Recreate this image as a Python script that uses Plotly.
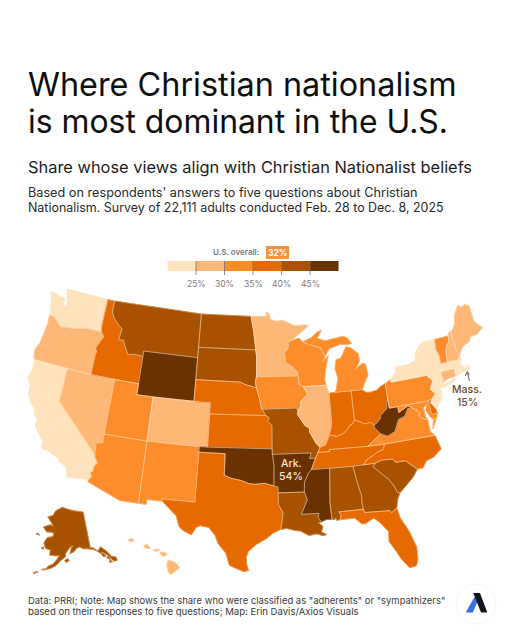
import math
import numpy as np
import plotly.graph_objects as go

# Survey values per state (share, %)
STATE_NAMES = ["WA", "OR", "CA", "NV", "ID", "MT", "WY", "UT", "CO", "AZ", "NM", "ND", "SD", "NE", "KS",
               "OK", "TX", "MN", "IA", "MO", "AR", "LA", "WI", "IL", "MI", "IN", "OH", "KY", "TN", "MS",
               "AL", "GA", "FL", "SC", "NC", "VA", "WV", "MD", "DE", "PA", "NJ", "NY", "CT", "RI", "MA",
               "VT", "NH", "ME", "AK", "HI"]
STATE_VALUES = [23, 28, 23, 28, 38, 43, 47, 33, 29, 33, 33, 42, 43, 37, 38,
                48, 38, 28, 33, 42, 54, 43, 33, 29, 33, 38, 38, 39, 39, 49,
                43, 42, 37, 43, 38, 34, 50, 32, 36, 33, 23, 22, 27, 24, 15,
                32, 28, 28, 42, 27]

BIN_EDGES = [25, 30, 35, 40, 45]
BIN_COLORS = ["#fee3bd", "#fdb878", "#fd8c2b", "#e66a00", "#a85200", "#6a3200"]
LEGEND_MIN = 20
LEGEND_MAX = 50
US_OVERALL = 32

# Simplified state outlines, (lon, lat) rings
OUTLINES = {
    "WA": [[(-124.73,48.38),(-123.1,48.15),(-122.75,48.15),(-122.6,47.3),(-122.3,47.4),(-122.3,47.9),(-122.5,48.4),(-122.75,49.0),(-117.03,49.0),(-117.04,46.42),(-116.92,45.995),(-118.98,46.0),(-119.3,45.93),(-120.5,45.7),(-121.2,45.65),(-122.3,45.55),(-122.8,45.9),(-123.2,46.15),(-123.55,46.26),(-124.05,46.27),(-124.05,46.7),(-124.15,46.95),(-124.4,47.6)]],
    "OR": [[(-124.05,46.27),(-123.55,46.26),(-123.2,46.15),(-122.8,45.9),(-122.3,45.55),(-121.2,45.65),(-120.5,45.7),(-119.3,45.93),(-118.98,46.0),(-116.92,45.995),(-116.46,45.6),(-116.85,45.0),(-117.2,44.4),(-116.95,44.2),(-117.03,43.8),(-117.03,42.0),(-124.21,42.0),(-124.4,42.3),(-124.55,42.84),(-124.15,43.7),(-124.05,44.7),(-123.95,45.5)]],
    "CA": [[(-124.21,42.0),(-120.0,42.0),(-120.0,39.0),(-114.63,35.0),(-114.57,34.8),(-114.15,34.3),(-114.43,34.05),(-114.5,33.5),(-114.72,33.4),(-114.52,33.03),(-114.72,32.72),(-117.12,32.53),(-117.25,32.85),(-117.4,33.3),(-118.0,33.65),(-118.4,33.75),(-118.5,34.03),(-119.2,34.15),(-119.6,34.4),(-120.47,34.45),(-120.65,34.6),(-120.65,35.15),(-121.3,35.7),(-121.9,36.3),(-121.95,36.6),(-121.8,36.85),(-122.1,36.96),(-122.5,37.5),(-122.5,37.8),(-123.0,38.0),(-123.7,38.9),(-123.8,39.7),(-124.35,40.3),(-124.1,41.0)]],
    "NV": [[(-120,42),(-114.04,42),(-114.04,36.2),(-114.75,36.1),(-114.63,35.0),(-120,39)]],
    "ID": [[(-117.03,49),(-116.05,49),(-116.05,48.0),(-115.7,47.5),(-115,47),(-114.35,46.65),(-114.5,45.6),(-113.9,45.65),(-113.45,45.05),(-113.0,44.45),(-112.3,44.55),(-111.5,44.55),(-111.05,44.48),(-111.05,42.0),(-117.03,42),(-117.03,43.8),(-116.95,44.2),(-117.2,44.4),(-116.85,45.0),(-116.46,45.6),(-116.92,45.995),(-117.04,46.42)]],
    "MT": [[(-116.05,49),(-104.05,49),(-104.05,45),(-111.05,45),(-111.05,44.48),(-111.5,44.55),(-112.3,44.55),(-113.0,44.45),(-113.45,45.05),(-113.9,45.65),(-114.5,45.6),(-114.35,46.65),(-115,47),(-115.7,47.5),(-116.05,48)]],
    "WY": [[(-111.05,45),(-104.05,45),(-104.05,41),(-111.05,41)]],
    "UT": [[(-114.04,42),(-111.05,42),(-111.05,41),(-109.05,41),(-109.05,37),(-114.04,37)]],
    "CO": [[(-109.05,41),(-102.05,41),(-102.05,37),(-109.05,37)]],
    "AZ": [[(-114.04,37),(-109.05,37),(-109.05,31.33),(-111.07,31.33),(-114.81,32.5),(-114.72,32.72),(-114.52,33.03),(-114.72,33.4),(-114.5,33.5),(-114.43,34.05),(-114.15,34.3),(-114.57,34.8),(-114.63,35.0),(-114.75,36.1),(-114.04,36.2)]],
    "NM": [[(-109.05,37),(-103.0,37),(-103.04,32),(-106.62,32),(-106.53,31.78),(-108.21,31.78),(-108.21,31.33),(-109.05,31.33)]],
    "ND": [[(-104.05,49),(-97.23,49),(-96.85,47.6),(-96.56,45.94),(-104.05,45.94)]],
    "SD": [[(-104.05,45.94),(-96.56,45.94),(-96.45,45.3),(-96.45,43.5),(-96.6,43.0),(-96.45,42.5),(-97.9,42.8),(-98.5,43.0),(-104.05,43.0)]],
    "NE": [[(-104.05,43),(-98.5,43),(-97.9,42.8),(-96.45,42.5),(-96.1,41.6),(-95.85,40.7),(-95.31,40.0),(-102.05,40),(-102.05,41),(-104.05,41)]],
    "KS": [[(-102.05,40),(-95.31,40),(-94.9,39.8),(-95.1,39.5),(-94.61,39.1),(-94.62,37),(-102.05,37)]],
    "OK": [[(-103,37),(-94.62,37),(-94.43,35.4),(-94.48,33.64),(-95.5,33.9),(-96.5,33.8),(-97.2,33.85),(-98.1,34.13),(-99.2,34.3),(-100.0,34.56),(-100,36.5),(-103,36.5)]],
    "TX": [[(-106.62,32),(-103.04,32),(-103,36.5),(-100,36.5),(-100,34.56),(-99.2,34.3),(-98.1,34.13),(-97.2,33.85),(-96.5,33.8),(-95.5,33.9),(-94.48,33.64),(-94.04,33.55),(-94.04,33.02),(-94.04,32),(-93.55,31.2),(-93.7,30.3),(-93.85,29.7),(-94.7,29.35),(-95.3,28.9),(-96.4,28.35),(-97.2,27.7),(-97.4,27.2),(-97.35,26.5),(-97.15,25.96),(-97.6,25.85),(-98.2,26.05),(-99.1,26.4),(-99.5,27.5),(-100.3,28.3),(-100.7,29.1),(-101.4,29.77),(-102.3,29.88),(-102.7,29.7),(-103.15,28.98),(-104.0,29.3),(-104.5,29.65),(-104.9,30.6),(-106.0,31.4),(-106.53,31.78)]],
    "MN": [[(-97.23,49),(-95.15,49),(-95.15,49.38),(-94.8,49.3),(-94.6,48.72),(-93.8,48.55),(-92.9,48.6),(-92.0,48.3),(-91.4,48.07),(-90.0,48.1),(-89.5,48.0),(-90.8,47.3),(-92.0,46.7),(-92.3,46.65),(-92.3,46.1),(-92.85,45.6),(-92.75,45.0),(-92.75,44.75),(-92.0,44.4),(-91.25,43.85),(-91.22,43.5),(-96.45,43.5),(-96.45,45.3),(-96.56,45.94),(-96.85,47.6)]],
    "IA": [[(-96.45,43.5),(-91.22,43.5),(-91.1,42.7),(-90.65,42.5),(-90.15,41.8),(-91.05,41.2),(-91.1,40.7),(-91.42,40.38),(-91.73,40.61),(-95.77,40.58),(-95.85,40.7),(-96.1,41.6),(-96.45,42.5),(-96.6,43.0)]],
    "MO": [[(-95.77,40.58),(-91.73,40.61),(-91.42,40.38),(-91.5,40.0),(-90.7,39.0),(-90.2,38.75),(-90.2,38.4),(-89.5,37.3),(-89.1,36.95),(-89.4,36.5),(-89.7,36.0),(-90.37,36.0),(-90.15,36.5),(-94.62,36.5),(-94.62,37),(-94.61,39.1),(-95.1,39.5),(-94.9,39.8),(-95.31,40)]],
    "AR": [[(-94.62,36.5),(-90.15,36.5),(-90.37,36),(-89.7,36),(-90.25,35.0),(-90.6,34.7),(-91.1,33.9),(-91.17,33.0),(-94.04,33.02),(-94.04,33.55),(-94.48,33.64),(-94.43,35.4)]],
    "LA": [[(-94.04,33.02),(-91.17,33.0),(-90.9,32.3),(-91.6,31.0),(-89.73,31.0),(-89.85,30.65),(-89.55,30.2),(-89.85,30.15),(-89.4,29.8),(-89.6,29.3),(-89.1,29.05),(-89.4,28.95),(-90.1,29.15),(-90.9,29.05),(-91.8,29.5),(-92.3,29.55),(-93.2,29.77),(-93.85,29.7),(-93.7,30.3),(-93.55,31.2),(-94.04,32)]],
    "WI": [[(-92.0,46.7),(-91.2,46.85),(-90.8,46.9),(-90.4,46.55),(-89.1,46.15),(-88.1,45.9),(-87.8,45.35),(-87.6,45.1),(-87.95,44.6),(-87.2,45.15),(-87.5,44.4),(-87.75,43.7),(-87.9,43.0),(-87.8,42.49),(-90.65,42.5),(-91.1,42.7),(-91.22,43.5),(-91.25,43.85),(-92,44.4),(-92.75,44.75),(-92.75,45),(-92.85,45.6),(-92.3,46.1),(-92.3,46.65)]],
    "IL": [[(-90.65,42.5),(-87.8,42.49),(-87.53,41.72),(-87.53,39.35),(-87.6,38.7),(-87.95,38.0),(-88.05,37.8),(-88.45,37.1),(-89.1,36.95),(-89.5,37.3),(-90.2,38.4),(-90.2,38.75),(-90.7,39),(-91.5,40),(-91.42,40.38),(-91.1,40.7),(-91.05,41.2),(-90.15,41.8)]],
    "IN": [[(-87.53,41.72),(-87.2,41.76),(-86.8,41.76),(-84.8,41.76),(-84.81,39.1),(-85.2,38.7),(-85.4,38.7),(-85.8,38.3),(-86.3,38.0),(-87.1,37.8),(-87.95,38),(-87.6,38.7),(-87.53,39.35)]],
    "OH": [[(-84.8,41.76),(-83.45,41.73),(-83,41.45),(-82.5,41.4),(-81.7,41.5),(-81.2,41.75),(-80.52,41.98),(-80.52,40.64),(-80.65,40.4),(-80.85,39.7),(-81.7,39.2),(-81.75,38.95),(-82.2,38.6),(-82.6,38.42),(-83.0,38.72),(-83.65,38.63),(-84.25,38.9),(-84.81,39.1)]],
    "MI": [[(-86.8,41.76),(-84.8,41.76),(-83.45,41.73),(-83.15,42.1),(-82.45,43.0),(-82.6,44.0),(-83.0,44.07),(-83.9,43.65),(-83.3,44.3),(-83.3,45.0),(-84.2,45.63),(-84.8,45.77),(-85.1,45.4),(-85.6,44.8),(-86.25,44.7),(-86.5,43.9),(-86.25,43.0),(-86.6,42.0)],
           [(-90.4,46.55),(-89.2,46.9),(-88.4,47.37),(-87.8,47.47),(-88.45,46.8),(-87.4,46.5),(-86.1,46.65),(-85.0,46.75),(-84.4,46.5),(-84.0,46.0),(-84.7,45.95),(-85.5,46.05),(-86.5,45.85),(-87.0,45.75),(-87.6,45.1),(-87.8,45.35),(-88.1,45.9),(-89.1,46.15)]],
    "KY": [[(-89.4,36.5),(-88.05,36.5),(-88.07,36.68),(-83.67,36.6),(-81.97,37.54),(-82.6,38.17),(-82.6,38.42),(-83,38.72),(-83.65,38.63),(-84.25,38.9),(-84.81,39.1),(-85.2,38.7),(-85.4,38.7),(-85.8,38.3),(-86.3,38),(-87.1,37.8),(-87.95,38),(-88.05,37.8),(-88.45,37.1),(-89.1,36.95)]],
    "TN": [[(-89.7,36),(-89.4,36.5),(-88.05,36.5),(-88.07,36.68),(-83.67,36.6),(-81.68,36.59),(-82.0,36.1),(-82.6,36.0),(-83.1,35.75),(-84.0,35.4),(-84.32,34.99),(-85.6,34.98),(-88.2,35.0),(-90.25,35.0)]],
    "MS": [[(-90.25,35),(-88.2,35),(-88.47,31.9),(-88.4,30.37),(-89.0,30.4),(-89.55,30.2),(-89.85,30.65),(-89.73,31),(-91.6,31),(-90.9,32.3),(-91.17,33),(-91.1,33.9),(-90.6,34.7)]],
    "AL": [[(-88.2,35),(-85.6,34.98),(-85.18,32.87),(-85.0,32.3),(-85.05,31.55),(-85.0,31.0),(-87.6,31.0),(-87.4,30.65),(-87.5,30.28),(-87.95,30.25),(-87.98,30.5),(-88.1,30.35),(-88.4,30.37),(-88.47,31.9)]],
    "GA": [[(-85.6,34.98),(-83.1,35.0),(-83.35,34.7),(-82.55,34.0),(-81.9,33.45),(-81.45,32.85),(-81.1,32.1),(-80.85,32.03),(-81.2,31.5),(-81.45,30.72),(-82.05,30.37),(-82.2,30.57),(-84.86,30.7),(-85.0,31.0),(-85.05,31.55),(-85.0,32.3),(-85.18,32.87)]],
    "FL": [[(-87.6,31),(-85,31),(-84.86,30.7),(-82.2,30.57),(-82.05,30.37),(-81.45,30.72),(-81.25,29.8),(-80.55,28.45),(-80.05,26.9),(-80.15,25.75),(-80.4,25.2),(-81.1,25.15),(-81.8,26.1),(-82.1,26.7),(-82.75,27.8),(-82.65,28.7),(-83.4,29.6),(-84.0,30.1),(-84.9,29.7),(-85.3,29.7),(-86.0,30.3),(-87.5,30.28),(-87.4,30.65)]],
    "SC": [[(-83.1,35),(-82.3,35.2),(-81.05,35.15),(-80.8,34.82),(-79.67,34.8),(-78.55,33.86),(-79.2,33.2),(-79.9,32.7),(-80.85,32.03),(-81.1,32.1),(-81.45,32.85),(-81.9,33.45),(-82.55,34.0),(-83.35,34.7)]],
    "NC": [[(-84.32,34.99),(-84,35.4),(-83.1,35.75),(-82.6,36),(-82,36.1),(-81.68,36.59),(-75.87,36.55),(-75.5,35.25),(-76.5,34.65),(-77.4,34.45),(-77.9,33.9),(-78.55,33.86),(-79.67,34.8),(-80.8,34.82),(-81.05,35.15),(-82.3,35.2),(-83.1,35)]],
    "VA": [[(-83.67,36.6),(-81.68,36.59),(-75.87,36.55),(-76.3,36.95),(-76.3,37.5),(-76.3,38.05),(-77,38.3),(-77.25,38.55),(-77.05,38.85),(-77.72,39.32),(-78.35,39.4),(-78.87,38.76),(-79.65,38.58),(-80.3,37.55),(-81.25,37.25),(-81.97,37.54)],
           [(-75.95,37.15),(-75.65,37.95),(-75.25,38.03)]],
    "WV": [[(-82.6,38.42),(-82.6,38.17),(-81.97,37.54),(-81.25,37.25),(-80.3,37.55),(-79.65,38.58),(-78.87,38.76),(-78.35,39.4),(-77.72,39.32),(-78.3,39.63),(-79.48,39.2),(-79.48,39.72),(-80.52,39.72),(-80.52,40.64),(-80.65,40.4),(-80.85,39.7),(-81.7,39.2),(-81.75,38.95),(-82.2,38.6)]],
    "MD": [[(-79.48,39.72),(-75.79,39.72),(-75.7,38.46),(-75.05,38.45),(-75.25,38.03),(-75.65,37.95),(-75.9,38.2),(-76.3,38.9),(-76.05,39.45),(-76.5,39.2),(-76.5,38.4),(-76.3,38.05),(-77,38.3),(-77.25,38.55),(-77.05,38.85),(-77.72,39.32),(-78.3,39.63),(-79.48,39.2)]],
    "DE": [[(-75.79,39.72),(-75.4,39.8),(-75.55,39.45),(-75.1,38.8),(-75.05,38.45),(-75.7,38.46)]],
    "PA": [[(-80.52,41.98),(-79.76,42.27),(-79.76,42.0),(-75.35,42.0),(-74.7,41.36),(-75.1,40.95),(-75.2,40.65),(-74.75,40.2),(-75.4,39.8),(-75.79,39.72),(-80.52,39.72)]],
    "NJ": [[(-74.7,41.36),(-73.9,41.0),(-74.0,40.7),(-74.25,40.48),(-73.98,40.4),(-74.1,39.75),(-74.9,38.95),(-75.55,39.5),(-74.75,40.2),(-75.2,40.65),(-75.1,40.95)]],
    "NY": [[(-79.76,42.27),(-78.9,42.9),(-79.05,43.26),(-77.5,43.27),(-76.3,43.5),(-76.2,44.1),(-75.3,44.85),(-74.7,45),(-73.35,45),(-73.45,44.0),(-73.25,43.6),(-73.27,42.75),(-73.5,42.05),(-73.49,41.2),(-73.65,41.0),(-74.0,40.7),(-73.9,41),(-74.7,41.36),(-75.35,42),(-79.76,42)],
           [(-74.0,40.6),(-73.75,40.85),(-72.6,40.97),(-72.3,41.15),(-71.9,41.05),(-72.5,40.82),(-73.5,40.6)]],
    "CT": [[(-73.5,42.05),(-71.8,42.02),(-71.85,41.32),(-72.9,41.25),(-73.65,41.0),(-73.49,41.2)]],
    "RI": [[(-71.8,42.02),(-71.38,42.02),(-71.12,41.5),(-71.5,41.37),(-71.85,41.32)]],
    "MA": [[(-73.5,42.05),(-73.27,42.75),(-72.45,42.73),(-71.3,42.7),(-70.82,42.87),(-70.65,42.65),(-71.0,42.3),(-70.65,41.95),(-70.55,41.8),(-70.05,41.78),(-70.25,42.07),(-69.95,41.9),(-70.0,41.65),(-70.65,41.55),(-71.12,41.5),(-71.38,42.02),(-71.8,42.02)]],
    "VT": [[(-73.35,45),(-71.5,45.01),(-71.6,44.5),(-72.05,44.1),(-72.3,43.6),(-72.45,42.73),(-73.27,42.75),(-73.25,43.6),(-73.45,44)]],
    "NH": [[(-71.5,45.01),(-71.3,45.3),(-71.08,45.3),(-70.98,43.4),(-70.7,43.07),(-70.82,42.87),(-71.3,42.7),(-72.45,42.73),(-72.3,43.6),(-72.05,44.1),(-71.6,44.5)]],
    "ME": [[(-71.08,45.3),(-70.8,45.4),(-70.3,45.9),(-70.0,46.7),(-69.23,47.46),(-68.9,47.18),(-68.3,47.36),(-67.8,47.07),(-67.8,45.7),(-67.45,45.3),(-67.0,44.85),(-68.0,44.4),(-68.8,44.4),(-69.1,44.0),(-70.0,43.75),(-70.55,43.3),(-70.7,43.07),(-70.98,43.4)]],
    "AK": [[(-141,69.65),(-141,60.3),(-139.5,60.0),(-137.5,58.9),(-136.5,59.45),(-135.5,59.8),(-134.9,59.3),(-133.5,58.4),(-131.8,56.6),(-130.0,56.0),(-130.0,55.1),(-131.5,55.2),(-132.5,56.2),(-134.0,57.5),(-135.5,58.2),(-136.6,58.2),(-138.0,59.0),(-139.7,59.6),(-142.5,60.05),(-144.5,60.2),(-146.5,60.8),(-148.3,60.5),(-149.5,59.8),(-151.8,59.2),(-151.0,60.7),(-150.0,61.2),(-151.5,61.0),(-152.8,60.2),(-154.0,59.3),(-154.0,58.5),(-156.3,57.5),(-158.5,56.1),(-161,55.2),(-163.3,54.8),(-161.8,55.9),(-160,56.4),(-158,57.9),(-157.2,58.8),(-158.8,58.6),(-162,58.65),(-162,60),(-164.5,60.2),(-166,61.6),(-164.8,62.8),(-164.5,63.1),(-161.5,63.5),(-161,64.4),(-163,64.6),(-165.5,64.5),(-168,65.6),(-164,66.5),(-162,66.2),(-163.5,67.1),(-166.5,68.4),(-163,69),(-161.5,70.3),(-156.5,71.35),(-152,70.8),(-148,70.4),(-144,70.0)],
           [(-154.5,57.5),(-153,58),(-152.2,57.6),(-153.5,56.9)],
           [(-167,60.2),(-165.5,60.5),(-165.7,59.9)],
           [(-171.5,63.4),(-169,63.3),(-170.5,63.75)],
           [(-136.3,58.0),(-134.8,58.1),(-134.5,57.0),(-135.5,57.1)],
           [(-134.2,56.7),(-133,57.1),(-132.6,56.2),(-133.7,55.3),(-132.2,55.1),(-133.2,56.1)],
           [(-166.9,53.9),(-166.2,53.9),(-167.8,53.3),(-168.3,53.4)],
           [(-164.9,54.6),(-163.6,55.0),(-163.1,54.7)]],
    "HI": [[(-155.9,20.25),(-155.2,19.98),(-154.82,19.52),(-155.65,18.92),(-155.9,19.1),(-156.05,19.75)],
           [(-156.7,20.95),(-156.3,20.95),(-156.0,20.75),(-156.4,20.57),(-156.7,20.8)],
           [(-157.3,21.2),(-156.75,21.18),(-156.9,21.05),(-157.3,21.08)],
           [(-158.28,21.55),(-157.95,21.7),(-157.65,21.3),(-158.1,21.3)],
           [(-159.8,22.1),(-159.35,22.2),(-159.3,21.95),(-159.6,21.9)]],
}

# d3 albersUsa style placement, tuned to the page
MAP_SCALE = 630
MAP_X = 255
MAP_Y = 430


def conic(lon, lat, rotate, center, parallels, scale, tx, ty):
    p1, p2 = math.radians(parallels[0]), math.radians(parallels[1])
    n = (math.sin(p1) + math.sin(p2)) / 2
    c = 1 + math.sin(p1) * (2 * n - math.sin(p1))
    r0 = math.sqrt(c) / n

    def raw(lam, phi):
        r = math.sqrt(c - 2 * n * math.sin(phi)) / n
        return r * math.sin(n * lam), r0 - r * math.cos(n * lam)

    x, y = raw(math.radians(lon + rotate), math.radians(lat))
    cx, cy = raw(math.radians(center[0]), math.radians(center[1]))
    return tx + scale * (x - cx), ty - scale * (y - cy)


def project(state, lon, lat):
    k, tx, ty = MAP_SCALE, MAP_X, MAP_Y
    if state == "AK":
        return conic(lon, lat, 154, (-2, 58.5), (55, 65), 0.35 * k, tx - 0.307 * k, ty + 0.201 * k)
    if state == "HI":
        return conic(lon, lat, 157, (-3, 19.9), (8, 18), k, tx - 0.205 * k, ty + 0.212 * k)
    return conic(lon, lat, 96, (-0.6, 38.7), (29.5, 45.5), k, tx, ty)


def bin_color(value):
    return BIN_COLORS[int(np.searchsorted(BIN_EDGES, value, side="right"))]


def legend_x(value):
    # 5.7 px per point, 25% tick at x=196
    return 196 + (value - 25) * 5.7


def state_path(name):
    xs, ys = [], []
    for ring in OUTLINES[name]:
        for lon, lat in ring + ring[:1]:
            x, y = project(name, lon, lat)
            xs.append(x)
            ys.append(y)
        xs.append(None)
        ys.append(None)
    return xs, ys


fig = go.Figure()

# state fills, stroked in their own colour so no white shows at the seams
for name, value in zip(STATE_NAMES, STATE_VALUES):
    xs, ys = state_path(name)
    fig.add_trace(go.Scatter(x=xs, y=ys, mode="lines", fill="toself", fillcolor=bin_color(value),
                             line=dict(color=bin_color(value), width=0.9, simplify=False),
                             hoverinfo="skip", showlegend=False))

# thin pale borders on top
for name in STATE_NAMES:
    xs, ys = state_path(name)
    fig.add_trace(go.Scatter(x=xs, y=ys, mode="lines",
                             line=dict(color="rgba(255,232,205,0.7)", width=0.5, simplify=False),
                             hoverinfo="skip", showlegend=False))

shapes = []
# legend bar
lows = [LEGEND_MIN] + BIN_EDGES
highs = BIN_EDGES + [LEGEND_MAX]
for low, high, color in zip(lows, highs, BIN_COLORS):
    shapes.append(dict(type="rect", x0=legend_x(low), x1=legend_x(high), y0=261, y1=271,
                       fillcolor=color, line_width=0))
for edge in BIN_EDGES:
    shapes.append(dict(type="line", x0=legend_x(edge), x1=legend_x(edge), y0=261, y1=275,
                       line=dict(color="#6e6e6e", width=0.8)))
# U.S. overall tag
shapes.append(dict(type="rect", x0=266, x1=289, y0=246, y1=259, fillcolor="#f2933f", line_width=0))
# Mass. arrow
shapes.append(dict(type="line", x0=469.5, x1=467.5, y0=381, y1=373, line=dict(color="#6e4a2a", width=0.9)))
shapes.append(dict(type="path", path="M465.3 376 L467.2 371.5 L469.4 375", line=dict(color="#6e4a2a", width=0.9)))
# Axios logo
shapes.append(dict(type="circle", x0=456, x1=496, y0=584, y1=624, fillcolor="white",
                   line=dict(color="#f1f1f1", width=0.8)))
shapes.append(dict(type="path", path="M465.7 612.5 L472.8 612.5 L478 600.5 L474.5 597 Z", fillcolor="#3a6fe0", line_width=0))
shapes.append(dict(type="path", path="M473.3 593 L480 593 L487.3 612.5 L481 612.5 Z", fillcolor="#12161c", line_width=0))
fig.update_layout(shapes=shapes)


def label(x, y, text, size, color, anchor="left", weight=400):
    fig.add_annotation(x=x, y=y, text=text, showarrow=False, xanchor=anchor, yanchor="middle",
                       align=anchor, xshift=0, yshift=0,
                       font=dict(family="Inter", size=size, color=color, weight=weight))


label(26, 84, "Where Christian nationalism", 32.4, "#0e0e0e")
label(26, 121, "is most dominant in the U.S.", 31.9, "#0e0e0e")
label(26, 167, "Share whose views align with Christian Nationalist beliefs", 16.4, "#1c1c1c")
label(26, 192, "Based on respondents' answers to five questions about Christian", 12.7, "#2a2a2a")
label(26, 207, "Nationalism. Survey of 22,111 adults conducted Feb. 28 to Dec. 8, 2025", 12.45, "#2a2a2a")

label(261, 252, "U.S. overall:", 8, "#7b7b7b", "right", 600)
label(277.5, 252.5, f"{US_OVERALL}%", 8.5, "white", "center", 700)
for edge in BIN_EDGES:
    label(legend_x(edge), 283.5, f"{edge}%", 8.5, "#7d7d7d", "center")

label(291, 463, "Ark.", 10.5, "#f5e6d6", "center", 500)
label(291, 476.5, f"{STATE_VALUES[STATE_NAMES.index('AR')]}%", 10.5, "#f5e6d6", "center", 500)
label(467, 389, "Mass.", 10.5, "#6e4a2a", "center", 500)
label(467, 402, f"{STATE_VALUES[STATE_NAMES.index('MA')]}%", 10.5, "#6e4a2a", "center", 500)

label(26, 600, "Data: PRRI; Note: Map shows the share who were classified as \"adherents\" or \"sympathizers\"", 9.45, "#3a3a3a")
label(26, 611, "based on their responses to five questions; Map: Erin Davis/Axios Visuals", 9.55, "#3a3a3a")

fig.update_xaxes(range=[0, 512], visible=False, fixedrange=True)
fig.update_yaxes(range=[640, 0], visible=False, fixedrange=True)
fig.update_layout(width=512, height=640, margin=dict(l=0, r=0, t=0, b=0),
                  paper_bgcolor="white", plot_bgcolor="white", showlegend=False)

fig.write_html("out.html", config={"displayModeBar": False},
               post_script="document.body.style.margin='0';")
